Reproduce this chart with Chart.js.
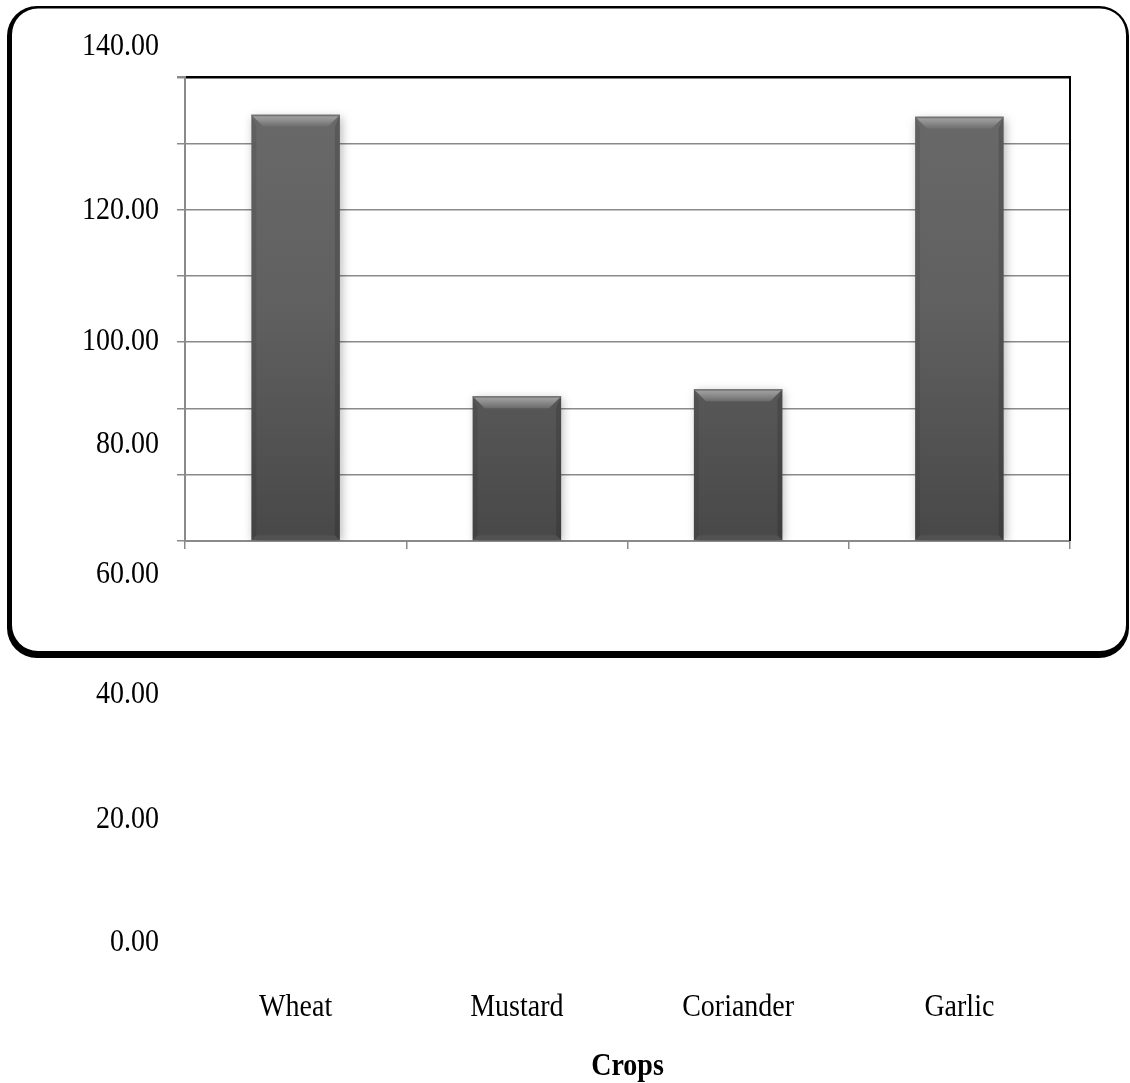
<!DOCTYPE html>
<html>
<head>
<meta charset="utf-8">
<script src="https://cdn.jsdelivr.net/npm/chart.js@4.4.1/dist/chart.umd.min.js"></script>
<style>
  html, body { margin: 0; padding: 0; background: #ffffff; }
  #wrap { width: 1130px; height: 1083px; position: relative; }
</style>
</head>
<body>
<div id="wrap"><canvas id="c"></canvas></div>
<script>
// ---- data ----
const categories = ['Wheat', 'Mustard', 'Coriander', 'Garlic'];
const values = [128.6, 43.7, 45.8, 128.0];
const yTickLabels = ['140.00', '120.00', '100.00', '80.00', '60.00', '40.00', '20.00', '0.00'];
const xAxisTitle = 'Crops';
const yMin = 0, yMax = 140, yStep = 20;

// ---- layout / style ----
const SERIF = '"Liberation Serif", "Times New Roman", serif';
const GRID = '#8a8a8a';
const labelColumnRight = 159;
const labelRowsY = [47, 211, 342, 445, 575, 695, 820, 943];
const categoryRowY = 1008;
const titleRowY = 1067;
const textStretchY = 1.15;

function roundRectPath(ctx, x, y, w, h, r) {
  ctx.moveTo(x + r, y);
  ctx.lineTo(x + w - r, y);
  ctx.arcTo(x + w, y, x + w, y + r, r);
  ctx.lineTo(x + w, y + h - r);
  ctx.arcTo(x + w, y + h, x + w - r, y + h, r);
  ctx.lineTo(x + r, y + h);
  ctx.arcTo(x, y + h, x, y + h - r, r);
  ctx.lineTo(x, y + r);
  ctx.arcTo(x, y, x + r, y, r);
  ctx.closePath();
}

function drawText(ctx, txt, x, y) {
  ctx.save();
  ctx.translate(x, y);
  ctx.scale(1, textStretchY);
  ctx.fillText(txt, 0, 0);
  ctx.restore();
}

// Rounded frame behind the plot
const framePlugin = {
  id: 'frame',
  beforeDraw(chart) {
    const ctx = chart.ctx;
    ctx.save();
    ctx.fillStyle = '#ffffff';
    ctx.fillRect(0, 0, chart.width, chart.height);
    ctx.beginPath();
    roundRectPath(ctx, 7, 6, 1122, 652, 30);
    roundRectPath(ctx, 12, 8.5, 1114, 642.5, 26);
    ctx.fillStyle = '#000000';
    ctx.fill('evenodd');
    ctx.restore();
  }
};

// Soft drop shadow for the bars
const shadowPlugin = {
  id: 'barShadow',
  beforeDatasetsDraw(chart) {
    const ctx = chart.ctx;
    ctx.save();
    ctx.shadowColor = 'rgba(0,0,0,0.28)';
    ctx.shadowBlur = 9;
    ctx.shadowOffsetX = 2;
    ctx.shadowOffsetY = 2;
  },
  afterDatasetsDraw(chart) {
    chart.ctx.restore();
  }
};

// Bevelled top / edges on each bar
const bevelPlugin = {
  id: 'bevel',
  afterDatasetsDraw(chart) {
    const ctx = chart.ctx;
    const meta = chart.getDatasetMeta(0);
    meta.data.forEach(bar => {
      const l = bar.x - bar.width / 2, r = bar.x + bar.width / 2;
      const t = bar.y, b = bar.base;
      const bv = 12, sv = 5;
      ctx.save();
      // top bevel
      const g = ctx.createLinearGradient(0, t, 0, t + bv);
      g.addColorStop(0, '#a4a4a4');
      g.addColorStop(0.4, '#929292');
      g.addColorStop(1, '#6c6c6c');
      ctx.beginPath();
      ctx.moveTo(l, t); ctx.lineTo(r, t);
      ctx.lineTo(r - bv, t + bv); ctx.lineTo(l + bv, t + bv);
      ctx.closePath();
      ctx.fillStyle = g; ctx.fill();
      // left edge
      ctx.beginPath();
      ctx.moveTo(l, t); ctx.lineTo(l + sv, t + bv);
      ctx.lineTo(l + sv, b - sv); ctx.lineTo(l, b);
      ctx.closePath();
      ctx.fillStyle = 'rgba(0,0,0,0.08)'; ctx.fill();
      // right edge
      ctx.beginPath();
      ctx.moveTo(r, t); ctx.lineTo(r - sv, t + bv);
      ctx.lineTo(r - sv, b - sv); ctx.lineTo(r, b);
      ctx.closePath();
      ctx.fillStyle = 'rgba(0,0,0,0.14)'; ctx.fill();
      // bottom edge
      ctx.beginPath();
      ctx.moveTo(l, b); ctx.lineTo(l + sv, b - sv);
      ctx.lineTo(r - sv, b - sv); ctx.lineTo(r, b);
      ctx.closePath();
      ctx.fillStyle = 'rgba(255,255,255,0.05)'; ctx.fill();
      // top highlight line
      ctx.fillStyle = 'rgba(110,110,110,0.9)';
      ctx.fillRect(l, t, r - l, 1.5);
      ctx.restore();
    });
  }
};

// Plot frame (right side), tick labels, category labels and axis title
const textPlugin = {
  id: 'texts',
  afterDraw(chart) {
    const ctx = chart.ctx;
    const area = chart.chartArea;
    const xs = chart.scales.x;
    ctx.save();
    // right border of the plot
    ctx.strokeStyle = '#000000';
    ctx.lineWidth = 2;
    ctx.beginPath();
    ctx.moveTo(area.right, area.top - 1);
    ctx.lineTo(area.right, area.bottom);
    ctx.stroke();

    ctx.fillStyle = '#000000';
    ctx.textBaseline = 'middle';
    ctx.font = '28px ' + SERIF;
    // value labels down the left side
    ctx.textAlign = 'right';
    yTickLabels.forEach((txt, i) => {
      drawText(ctx, txt, labelColumnRight, labelRowsY[i]);
    });
    // category labels
    ctx.textAlign = 'center';
    categories.forEach((c, i) => {
      drawText(ctx, c, xs.getPixelForValue(i), categoryRowY);
    });
    // axis title
    ctx.font = 'bold 28px ' + SERIF;
    drawText(ctx, xAxisTitle, (area.left + area.right) / 2, titleRowY);
    ctx.restore();
  }
};

const ctx = document.getElementById('c').getContext('2d');
new Chart(ctx, {
  type: 'bar',
  data: {
    labels: categories,
    datasets: [{
      data: values,
      backgroundColor(context) {
        const ch = context.chart;
        const a = ch.chartArea;
        if (!a) return '#5a5a5a';
        const g = ch.ctx.createLinearGradient(0, a.top, 0, a.bottom);
        g.addColorStop(0, '#6a6a6a');
        g.addColorStop(0.5, '#606060');
        g.addColorStop(1, '#484848');
        return g;
      },
      borderWidth: 0,
      barPercentage: 0.4,
      categoryPercentage: 1.0
    }]
  },
  options: {
    responsive: true,
    maintainAspectRatio: false,
    devicePixelRatio: 1,
    animation: false,
    layout: { padding: { left: 175, top: 77, right: 60, bottom: 532 } },
    plugins: { legend: { display: false }, tooltip: { enabled: false } },
    scales: {
      x: {
        ticks: { display: false },
        grid: {
          display: true, drawOnChartArea: false, drawTicks: true,
          tickLength: 8, color: GRID, lineWidth: 1.5, offset: true
        },
        border: { display: true, color: GRID, width: 2 },
        afterFit(scale) { scale.height = 10; }
      },
      y: {
        min: yMin, max: yMax,
        ticks: { display: false, stepSize: yStep },
        grid: {
          color: c => (c.tick && c.tick.value === yMax) ? '#000000' : GRID,
          lineWidth: c => (c.tick && c.tick.value === yMax) ? 2.5 : 1.5,
          tickColor: GRID, tickLength: 8, drawTicks: true
        },
        border: { display: true, color: GRID, width: 2 },
        afterFit(scale) { scale.width = 10; }
      }
    }
  },
  plugins: [framePlugin, shadowPlugin, bevelPlugin, textPlugin]
});
</script>
</body>
</html>
